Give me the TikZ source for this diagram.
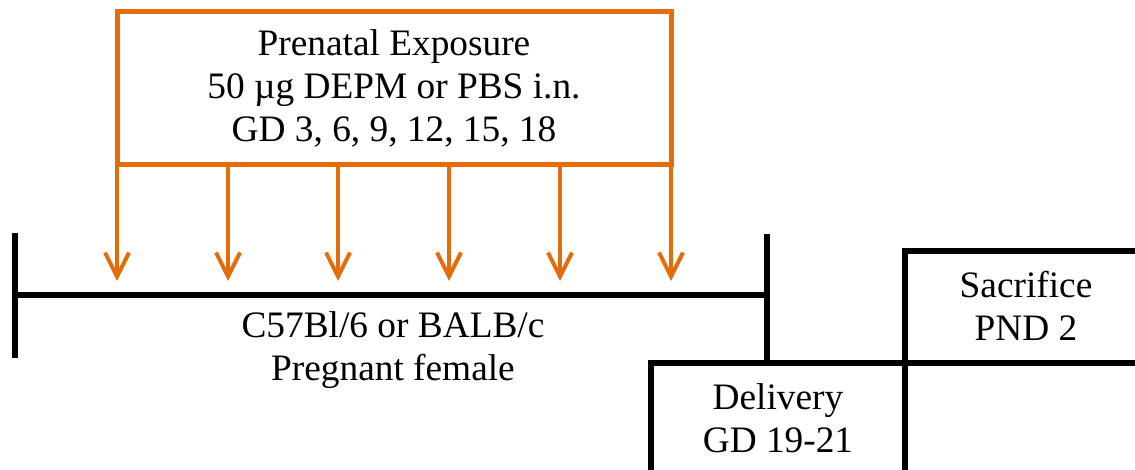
\documentclass[tikz,border=0pt]{standalone}
\usepackage{fontspec}
\setmainfont{Liberation Serif}
\usetikzlibrary{arrows.meta}
\definecolor{expo}{RGB}{228,108,10}
\begin{document}
\begin{tikzpicture}[x=0.75pt,y=-0.75pt,
  txt/.style={align=center,font=\fontsize{28}{32}\selectfont,inner sep=0pt},
  expobox/.style={draw=expo,line width=3.75pt,minimum width=415.5pt,minimum height=114.75pt,txt},
  dose/.style={draw=expo,line width=3pt,-{Straight Barb[length=18pt,width=18pt,line width=3pt]}},
  tl/.style={draw=black,line width=4.5pt}]
\useasboundingbox (0,0) rectangle (1135,470);
\clip (0,0) rectangle (1135,470);
\node[expobox] (expo) at (394,88.5) {Prenatal Exposure\\50 µg DEPM or PBS i.n.\\GD 3, 6, 9, 12, 15, 18};
% timeline
\coordinate (tlL) at (15,295);
\coordinate (tlR) at (767,295);
\draw[tl] (15,233) -- (15,358);
\draw[tl] (tlL) -- (tlR);
\draw[tl] (767,234) -- (767,363);
\node[txt] (preg) at (393,350) {C57Bl/6 or BALB/c\\Pregnant female};
% dose arrows
\foreach \i/\x in {1/117,2/228,3/338,4/449,5/560,6/671}{
  \coordinate (s\i) at (\x,165);
  \coordinate (t\i) at (\x,281);
  \draw[dose] (s\i) -- (t\i);
}
% delivery box
\draw[tl,line join=miter] (651,480) -- (651,363) -- (1140,363);
\draw[tl,line join=miter] (905,480) -- (905,251) -- (1140,251);
\node[txt] (deliv) at (778,418) {Delivery\\GD 19-21};
\node[txt] (sacr) at (1026,306) {Sacrifice\\PND 2};
\end{tikzpicture}
\end{document}
